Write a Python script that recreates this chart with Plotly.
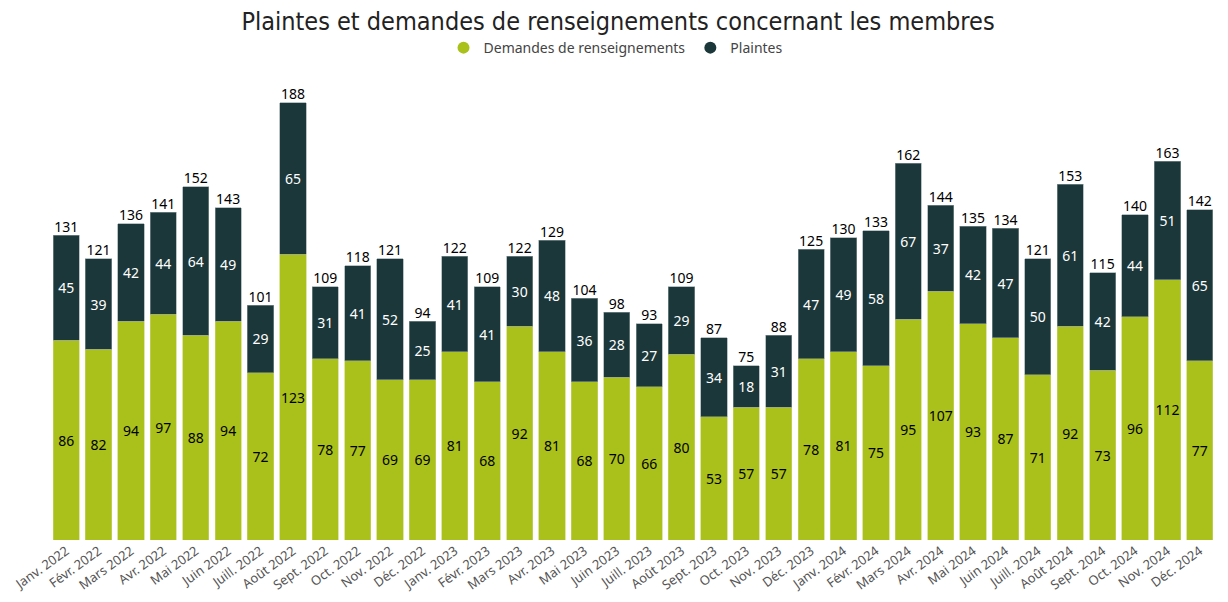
import plotly.graph_objects as go

# Monthly values
months = [
    "Janv. 2022", "Févr. 2022", "Mars 2022", "Avr. 2022", "Mai 2022", "Juin 2022",
    "Juill. 2022", "Août 2022", "Sept. 2022", "Oct. 2022", "Nov. 2022", "Déc. 2022",
    "Janv. 2023", "Févr. 2023", "Mars 2023", "Avr. 2023", "Mai 2023", "Juin 2023",
    "Juill. 2023", "Août 2023", "Sept. 2023", "Oct. 2023", "Nov. 2023", "Déc. 2023",
    "Janv. 2024", "Févr. 2024", "Mars 2024", "Avr. 2024", "Mai 2024", "Juin 2024",
    "Juill. 2024", "Août 2024", "Sept. 2024", "Oct. 2024", "Nov. 2024", "Déc. 2024",
]
demandes = [86, 82, 94, 97, 88, 94, 72, 123, 78, 77, 69, 69,
            81, 68, 92, 81, 68, 70, 66, 80, 53, 57, 57, 78,
            81, 75, 95, 107, 93, 87, 71, 92, 73, 96, 112, 77]
plaintes = [45, 39, 42, 44, 64, 49, 29, 65, 31, 41, 52, 25,
            41, 41, 30, 48, 36, 28, 27, 29, 34, 18, 31, 47,
            49, 58, 67, 37, 42, 47, 50, 61, 42, 44, 51, 65]
totals = [d + p for d, p in zip(demandes, plaintes)]

green = "#ABC11B"
dark = "#1B373A"
label_font = "Noto Sans"

fig = go.Figure()

fig.add_trace(go.Bar(
    x=months, y=demandes, name="Demandes de renseignements", showlegend=False,
    marker=dict(color=green, line=dict(color="#C9D46A", width=0.6)),
    text=demandes, textposition="inside", insidetextanchor="middle",
    textfont=dict(color="black", size=14, family=label_font),
    textangle=0, constraintext="none",
))
fig.add_trace(go.Bar(
    x=months, y=plaintes, name="Plaintes", showlegend=False,
    marker=dict(color=dark, line=dict(color="#8A9A9C", width=0.6)),
    text=plaintes, textposition="inside", insidetextanchor="middle",
    textfont=dict(color="white", size=14, family=label_font),
    textangle=0, constraintext="none",
))
# totals above each stack
fig.add_trace(go.Scatter(
    x=months, y=totals, mode="text", text=totals,
    textposition="top center", showlegend=False, hoverinfo="skip",
    textfont=dict(color="black", size=14, family=label_font),
))
# round legend markers
for name, color in [("Demandes de renseignements", green), ("Plaintes", dark)]:
    fig.add_trace(go.Scatter(
        x=[None], y=[None], mode="markers", name=name,
        marker=dict(color=color, size=12, symbol="circle"),
    ))

# page body has an 8px margin, so the figure is a bit smaller than the window
fig.update_layout(
    width=1220, height=594,
    barmode="stack", bargap=0.19,
    plot_bgcolor="white", paper_bgcolor="white",
    margin=dict(l=42, r=12, t=67, b=62),
    title=dict(
        text="Plaintes et demandes de renseignements concernant les membres",
        x=0.5, xanchor="center", y=0.978, yanchor="middle",
        font=dict(family="DejaVu Sans Condensed", size=25, color="#222222"),
    ),
    legend=dict(
        orientation="h", x=0.485, xanchor="center", y=1.058, yanchor="middle",
        font=dict(family=label_font, size=14, color="#444444"),
        itemwidth=30, traceorder="normal",
    ),
    xaxis=dict(
        tickangle=-36, tickfont=dict(family=label_font, size=13, color="#555555"),
        showgrid=False, showline=False, ticks="", automargin=False,
        range=[-0.5, len(months) - 0.5],
    ),
    yaxis=dict(visible=False, range=[0, 200]),
)

fig.write_html("out.html")
